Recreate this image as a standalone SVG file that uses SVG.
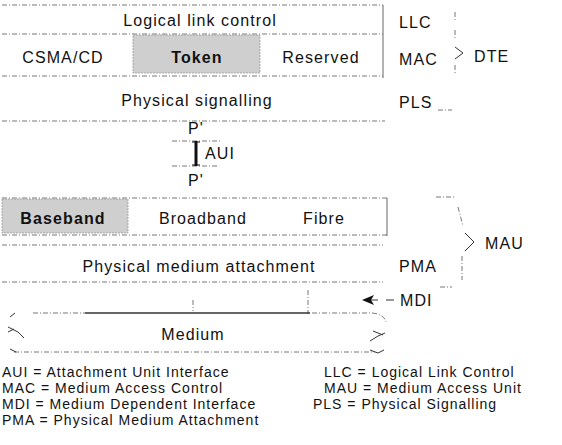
<svg xmlns="http://www.w3.org/2000/svg" width="562" height="445" viewBox="0 0 562 445">
<style>
text{font-family:"Liberation Sans",Arial,sans-serif;fill:#111}
.lb{font-size:16px;letter-spacing:1.1px}
.b{font-weight:bold}
.lg{font-size:14px;letter-spacing:1px}
.ln{stroke:#666;stroke-width:1;fill:none}
.dt{stroke:#777;stroke-width:1;fill:none;stroke-dasharray:5 2 1 2}
.sh{fill:#cfcfcf;stroke:#999;stroke-width:0.8;stroke-dasharray:2 1}
.mk{stroke:#333;stroke-width:1;fill:none}
</style>
<rect width="562" height="445" fill="#fff"/>
<g id="connectors">
<path class="dt" d="M2 5H383M2 34H383M2 76H383M2 121H385"/>
<path class="ln" d="M383 5V78"/>
<path class="dt" d="M438 110H452"/>
<path class="dt" d="M455 12V20M455 30V38M455 65V75"/>
<path class="mk" d="M455 47L463 53L455 59"/>
<path class="dt" d="M172 141H220M172 166H218"/>
<path d="M196 141V166" stroke="#111" stroke-width="3"/>
<path d="M192 142H200M192 165H200" stroke="#111" stroke-width="1.2"/>
<path class="dt" d="M2 198H387M2 235H387M2 245H383M2 282H383"/>
<path class="ln" d="M387 198V236"/>
<path class="dt" d="M436 197H454M440 287H452"/>
<path class="dt" d="M458 207L463 226M462 256V280"/>
<path class="mk" d="M465 233L474 242L465 251"/>
<path d="M362 300L374 295L371 300L374 305Z" fill="#111"/>
<path class="mk" d="M371 300H378M386 300H394"/>
<path class="dt" d="M308 290V314M193 300V311"/>
<path class="dt" d="M33 313H85"/>
<path d="M85 313H310" stroke="#333" stroke-width="1.6"/>
<path class="dt" d="M312 313H372Q384 314 386 322"/>
<path class="dt" d="M14 352H375"/>
<path class="mk" d="M10 317L15 313M8 327L18 332L24 338M8 332L14 329M10 349L16 352M373 331L383 335M370 341L378 336L385 333M370 350L378 353L384 350"/>
</g>
<g id="n-llc"><text class="lb" x="200" y="26" text-anchor="middle">Logical link control</text></g>
<g id="n-csma"><text class="lb" x="63" y="63" text-anchor="middle">CSMA/CD</text></g>
<g id="n-token"><rect class="sh" x="133" y="35" width="127" height="38"/><text class="lb b" x="197" y="63" text-anchor="middle">Token</text></g>
<g id="n-reserved"><text class="lb" x="321" y="63" text-anchor="middle">Reserved</text></g>
<g id="n-pls"><text class="lb" x="197" y="106" text-anchor="middle">Physical signalling</text></g>
<g id="n-labels-top">
<text class="lb" x="399" y="28">LLC</text>
<text class="lb" x="399" y="65">MAC</text>
<text class="lb" x="399" y="108">PLS</text>
<text class="lb" x="474" y="62">DTE</text>
</g>
<g id="n-aui">
<text class="lb" x="188" y="134">P'</text>
<text class="lb" x="205" y="159">AUI</text>
<text class="lb" x="188" y="186">P'</text>
</g>
<g id="n-baseband"><rect class="sh" x="2" y="199" width="126" height="34"/><text class="lb b" x="63" y="224" text-anchor="middle">Baseband</text></g>
<g id="n-broadband"><text class="lb" x="203" y="224" text-anchor="middle">Broadband</text></g>
<g id="n-fibre"><text class="lb" x="324" y="224" text-anchor="middle">Fibre</text></g>
<g id="n-pma"><text class="lb" x="199" y="272" text-anchor="middle">Physical medium attachment</text></g>
<g id="n-labels-mid">
<text class="lb" x="399" y="272">PMA</text>
<text class="lb" x="485" y="249">MAU</text>
<text class="lb" x="400" y="306">MDI</text>
</g>
<g id="n-medium"><text class="lb" x="193" y="340" text-anchor="middle">Medium</text></g>
<g id="legend">
<text class="lg" x="2" y="377">AUI = Attachment Unit Interface</text>
<text class="lg" x="2" y="393">MAC = Medium Access Control</text>
<text class="lg" x="2" y="409">MDI = Medium Dependent Interface</text>
<text class="lg" x="2" y="425">PMA = Physical Medium Attachment</text>
<text class="lg" x="324" y="377">LLC = Logical Link Control</text>
<text class="lg" x="324" y="393">MAU = Medium Access Unit</text>
<text class="lg" x="313" y="409">PLS = Physical Signalling</text>
</g>
</svg>
